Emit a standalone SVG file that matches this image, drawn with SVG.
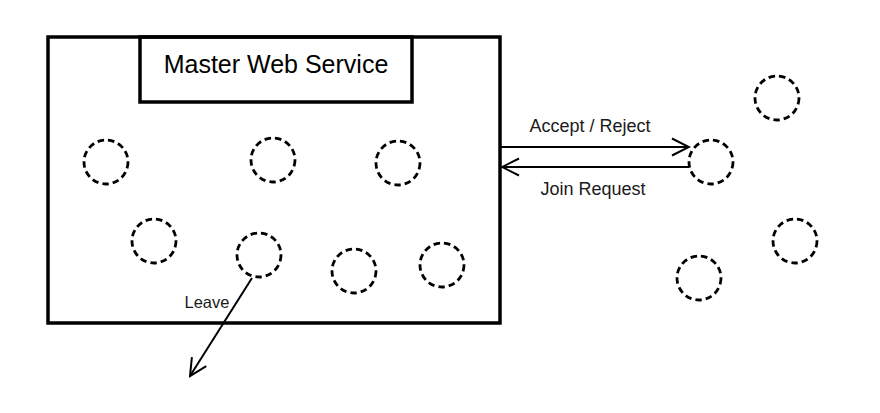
<svg xmlns="http://www.w3.org/2000/svg" width="880" height="413" viewBox="0 0 880 413">
<style>
.box{fill:none;stroke:#000;stroke-width:3.5}
.peer{fill:none;stroke:#000;stroke-width:2.8;stroke-dasharray:6.5 4}
.conn{fill:none;stroke:#000;stroke-width:2}
.lbl{font-family:"Liberation Sans",Arial,sans-serif;font-size:16.5px;fill:#1a1a1a}
.big{font-size:18px}
.title{font-family:"Liberation Sans",Arial,sans-serif;font-size:25px;fill:#000}
</style>
<defs>
<marker id="arr" viewBox="0 0 20 20" refX="18" refY="10" markerWidth="20" markerHeight="20" markerUnits="userSpaceOnUse" orient="auto">
<path d="M1,1.5 L18,10 L1,18.5" fill="none" stroke="#000" stroke-width="2"/>
</marker>
</defs>
<rect width="880" height="413" fill="#fff"/>
<g id="container">
<rect class="box" x="48" y="37" width="452" height="286"/>
</g>
<g id="master">
<rect class="box" x="140" y="37" width="272" height="65"/>
<text class="title" x="276" y="73" text-anchor="middle">Master Web Service</text>
</g>
<g id="peer1"><circle class="peer" cx="106" cy="162" r="22"/></g>
<g id="peer2"><circle class="peer" cx="273" cy="160" r="22"/></g>
<g id="peer3"><circle class="peer" cx="398" cy="163" r="22"/></g>
<g id="peer4"><circle class="peer" cx="154" cy="241" r="22"/></g>
<g id="peer5"><circle class="peer" cx="259" cy="255" r="22"/></g>
<g id="peer6"><circle class="peer" cx="354" cy="271" r="22"/></g>
<g id="peer7"><circle class="peer" cx="442" cy="265" r="22"/></g>
<g id="peer8"><circle class="peer" cx="777" cy="98" r="22"/></g>
<g id="peer9"><circle class="peer" cx="711" cy="162" r="22"/></g>
<g id="peer10"><circle class="peer" cx="795" cy="241" r="22"/></g>
<g id="peer11"><circle class="peer" cx="699" cy="278" r="22"/></g>
<g id="connectors">
<line class="conn" x1="501" y1="147" x2="689" y2="147" marker-end="url(#arr)"/>
<text class="lbl big" x="590" y="132" text-anchor="middle">Accept / Reject</text>
<line class="conn" x1="689" y1="167" x2="502" y2="167" marker-end="url(#arr)"/>
<text class="lbl big" x="593" y="195" text-anchor="middle">Join Request</text>
<line class="conn" x1="252" y1="278" x2="190" y2="376" marker-end="url(#arr)"/>
<text class="lbl" x="207" y="308" text-anchor="middle">Leave</text>
</g>
</svg>
